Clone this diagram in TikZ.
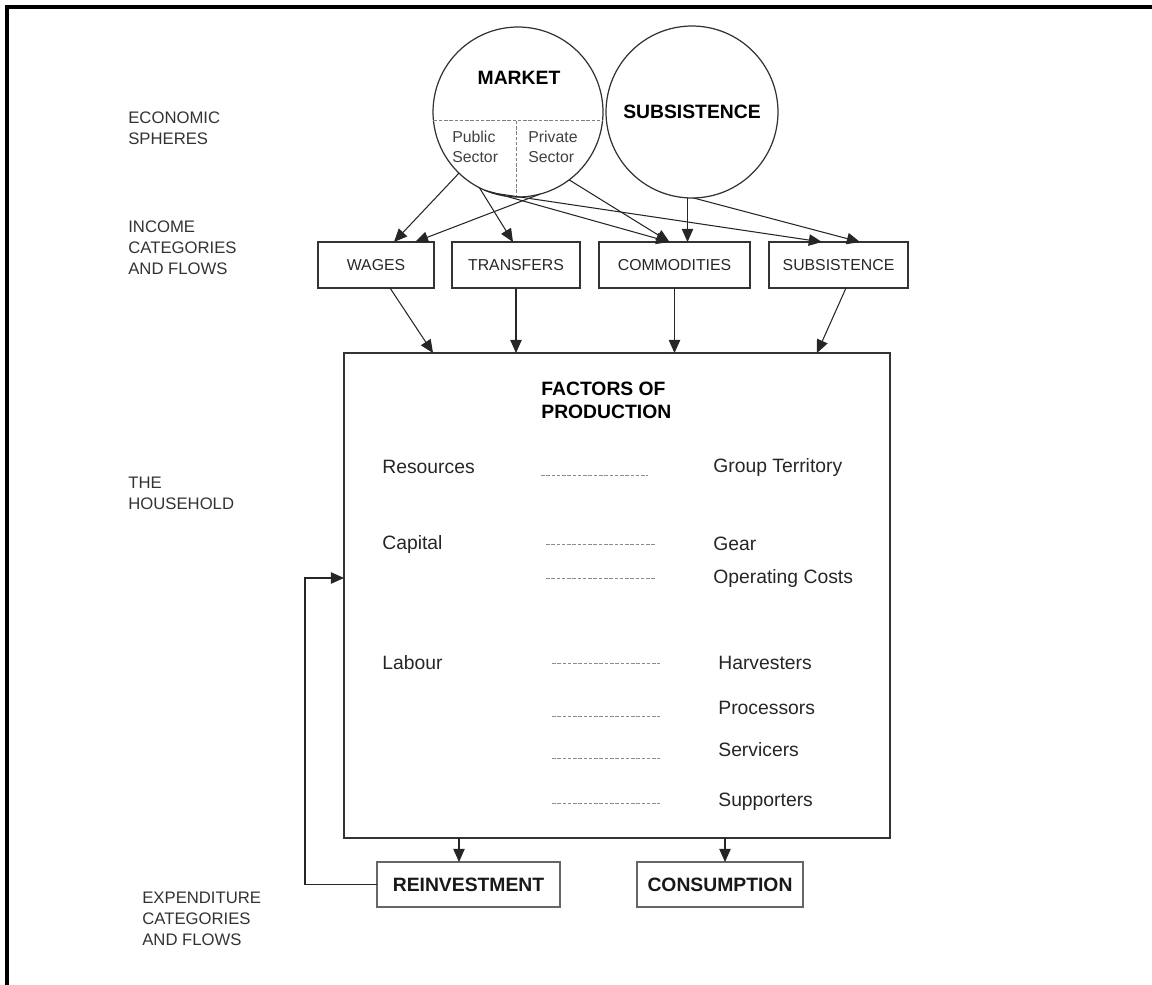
\documentclass[tikz,border=0pt]{standalone}
\usepackage{fontspec}
\setmainfont{Liberation Sans}
\usetikzlibrary{arrows.meta}
\tikzset{
  flow/.style={draw=black!85, line width=0.6pt, -{Triangle[length=7.5pt,width=6.5pt]}},
  sphere/.style={circle, draw=black!80, line width=0.7pt, inner sep=0pt, outer sep=0pt},
  catbox/.style={rectangle, draw=black!80, line width=0.7pt, outer sep=0pt, minimum height=0.92cm, text=black!85, font=\fontsize{9}{11}\selectfont},
  outbox/.style={rectangle, draw=black!60, line width=1.3pt, outer sep=0pt, minimum height=0.9cm, text=black!90, font=\fontsize{11}{13}\selectfont\bfseries},
  side/.style={anchor=west, align=left, inner sep=0pt, text=black!80, font=\fontsize{9.5}{12}\selectfont},
  item/.style={anchor=west, inner sep=0pt, text=black!85, font=\fontsize{11}{13}\selectfont},
  head/.style={inner sep=0pt, font=\fontsize{11}{13}\selectfont\bfseries},
  divide/.style={draw=black!50, line width=0.5pt, dash pattern=on 2pt off 1pt},
  tie/.style={draw=black!45, line width=0.45pt, dash pattern=on 2pt off 1pt}
}
\begin{document}
\begin{tikzpicture}[x=0.02cm, y=-0.02cm]
\useasboundingbox (0,0) rectangle (1152,984);
\draw[line width=2.3pt] (7,990) -- (7,7) -- (1160,7);
% row labels
\node[side] (lecon) at (128,128) {ECONOMIC\\SPHERES};
\node[side] (linc) at (128,248) {INCOME\\CATEGORIES\\AND FLOWS};
\node[side] (lhh) at (128,493) {THE\\HOUSEHOLD};
\node[side] (lexp) at (142,919) {EXPENDITURE\\CATEGORIES\\AND FLOWS};
% spheres
\node[sphere, minimum size=3.4cm] (mkt) at (518,112) {};
\node[sphere, minimum size=3.44cm] (subs) at (692,112) {};
\draw[divide] (mkt.186) -- (mkt.354);
\draw[divide] (mkt.269 |- mkt.186) -- (mkt.269);
\node[head] (mktl) at (519,78) {MARKET};
\node[head] (subsl) at (692,112) {SUBSISTENCE};
\node[anchor=west, align=left, inner sep=0pt, text=black!75, font=\fontsize{9}{11.4}\selectfont] (pub) at (452,147) {Public\\Sector};
\node[anchor=west, align=left, inner sep=0pt, text=black!75, font=\fontsize{9}{11.4}\selectfont] (priv) at (528,147) {Private\\Sector};
% income categories
\node[catbox, minimum width=2.32cm] (wages) at (376,265) {WAGES};
\node[catbox, minimum width=2.56cm] (trans) at (516,265) {TRANSFERS};
\node[catbox, minimum width=3.02cm] (comm) at (674.5,265) {COMMODITIES};
\node[catbox, minimum width=2.78cm] (subbox) at (838.5,265) {SUBSISTENCE};
\draw[flow] (mkt.226) -- ([xshift=0.36cm]wages.north);
\draw[flow] (mkt.285) -- ([xshift=0.78cm]wages.north);
\draw[flow] (mkt.243) -- ([xshift=-0.06cm]trans.north);
\draw[flow] (mkt.247) -- ([xshift=-0.1cm]comm.north);
\draw[flow] (mkt.307) -- ([xshift=-0.1cm]comm.north);
\draw[flow] (mkt.252) -- ([xshift=-0.33cm]subbox.north);
\draw[flow] (subs.267) -- (subs.267 |- comm.north);
\draw[flow] (subs.271) -- ([xshift=0.43cm]subbox.north);
% household
\node[rectangle, draw=black!80, line width=0.7pt, outer sep=0pt, minimum width=10.92cm, minimum height=9.7cm] (hh) at (617,595.5) {};
\draw[flow] ([xshift=0.28cm]wages.south) -- ([xshift=-3.68cm]hh.north);
\draw[flow] (trans.south) -- (trans.south |- hh.north);
\draw[flow] (comm.south) -- (comm.south |- hh.north);
\draw[flow] ([xshift=0.15cm]subbox.south) -- ([xshift=4cm]hh.north);
\node[head, anchor=west, align=left, font=\fontsize{11}{13.2}\selectfont\bfseries] (fop) at (541,400) {FACTORS OF\\PRODUCTION};
\node[item] (res) at (382,467) {Resources};
\node[item] (cap) at (382,544) {Capital};
\node[item] (lab) at (382,663) {Labour};
\node[item] (grp) at (713,467) {Group Territory};
\node[item] (gear) at (713,544) {Gear};
\node[item] (opc) at (713,578) {Operating Costs};
\node[item] (harv) at (718,663) {Harvesters};
\node[item] (proc) at (718,708) {Processors};
\node[item] (serv) at (718,750) {Servicers};
\node[item] (supp) at (718,802) {Supporters};
\foreach \y/\a/\b in {475/541/648, 544/546/656, 578/546/656, 663/552/660, 716/552/660, 758/552/660, 803/552/660}
  \draw[tie] (\a,\y) -- (\b,\y);
% expenditure
\node[outbox, minimum width=3.66cm] (reinv) at (468.5,884.5) {REINVESTMENT};
\node[outbox, minimum width=3.32cm] (cons) at (720,884.5) {CONSUMPTION};
\coordinate (ri) at ([xshift=-0.19cm]reinv.north);
\coordinate (co) at ([xshift=0.1cm]cons.north);
\draw[flow] (ri |- hh.south) -- (ri);
\draw[flow] (co |- hh.south) -- (co);
\draw[flow] (reinv.west) -- ++(-72,0) |- (hh.west |- opc);
\end{tikzpicture}
\end{document}
